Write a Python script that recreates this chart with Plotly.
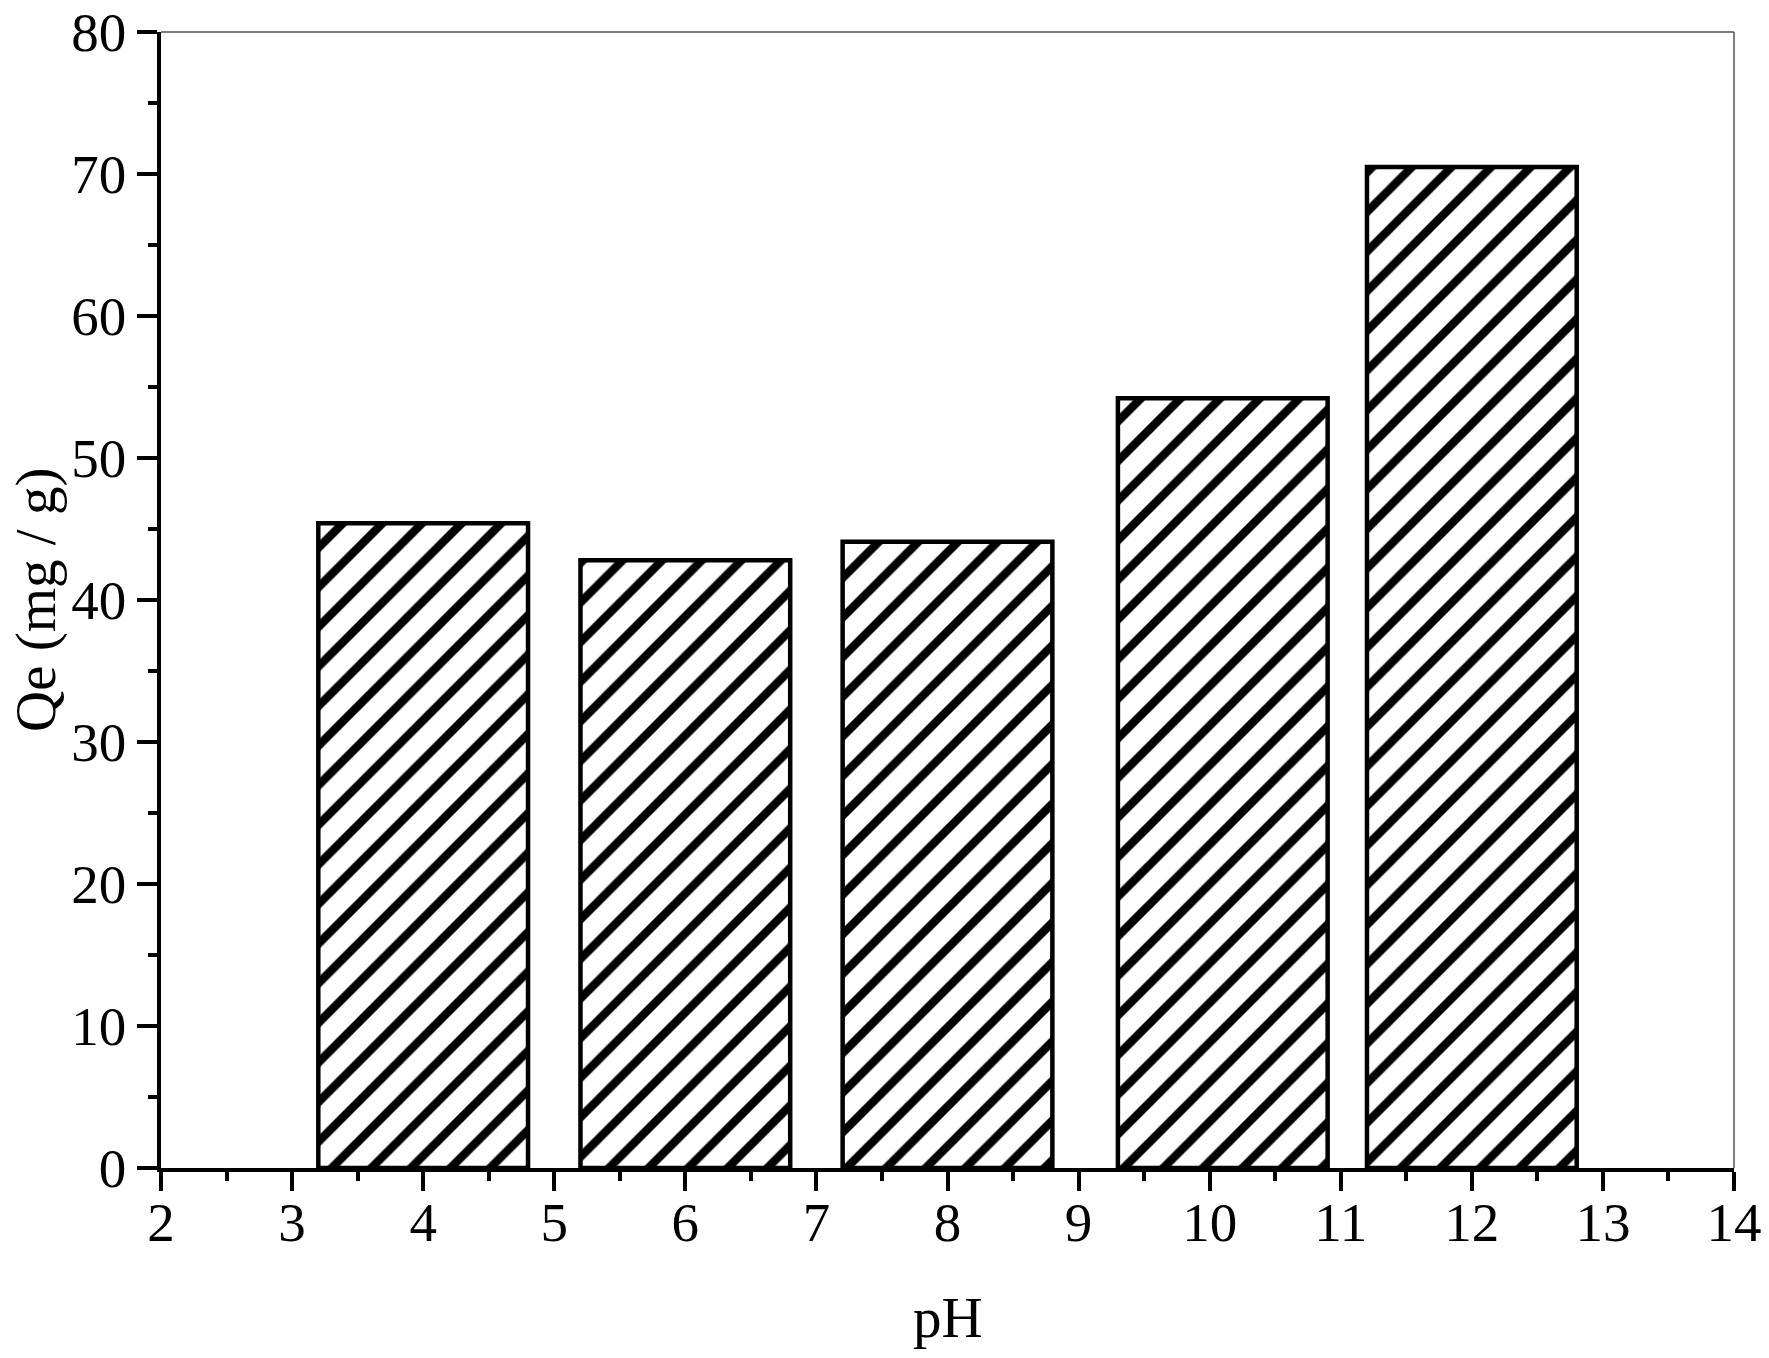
import plotly.graph_objects as go

ph = [4, 6, 8, 10.1, 12]
qe = [45.4, 42.8, 44.1, 54.2, 70.5]
bar_width = 1.6
x_label = "pH"
y_label = "Qe (mg / g)"

FONT = "Liberation Serif, Times New Roman, serif"
FS = 55

fig = go.Figure()
fig.add_trace(go.Bar(
    x=ph, y=qe, width=bar_width,
    marker=dict(
        color="white",
        line=dict(color="black", width=4.5),
        pattern=dict(shape="/", fgcolor="black", bgcolor="white", fgopacity=1,
                     size=28, solidity=0.3),
    ),
    showlegend=False,
))

axis_common = dict(
    showgrid=False, zeroline=False, showline=True, linecolor="black", linewidth=3.5,
    ticks="outside", tickwidth=3.5, tickcolor="black",
    tickfont=dict(family=FONT, size=FS, color="black"),
    ticklabeloverflow="allow",
)

fig.update_xaxes(
    range=[2, 14], dtick=1, tick0=2, ticklen=19, ticklabelstandoff=-16,
    minor=dict(ticks="outside", ticklen=9, tickwidth=3.5, tickcolor="black", dtick=0.5),
    **axis_common,
)
fig.update_yaxes(
    range=[0, 80], dtick=10, tick0=0, ticklen=20,
    minor=dict(ticks="outside", ticklen=9, tickwidth=3.5, tickcolor="black", dtick=5),
    **axis_common,
)

fig.add_annotation(text=x_label, xref="paper", yref="paper", x=0.5, y=0,
                   xanchor="center", yanchor="middle", yshift=-149, showarrow=False,
                   font=dict(family=FONT, size=57, color="black"))
fig.add_annotation(text=y_label, xref="paper", yref="paper", x=-0.0795, y=0.5,
                   xanchor="center", yanchor="middle", textangle=-90, showarrow=False,
                   font=dict(family=FONT, size=57, color="black"))

fig.add_shape(type="line", xref="paper", yref="paper", x0=0, x1=1, y0=1, y1=1,
              line=dict(color="#555555", width=1.5))
fig.add_shape(type="line", xref="paper", yref="paper", x0=1, x1=1, y0=0, y1=1,
              line=dict(color="#555555", width=1.5))

fig.update_layout(
    width=1769, height=1358,
    margin=dict(l=161, r=35, t=32, b=190, autoexpand=False),
    plot_bgcolor="white", paper_bgcolor="white",
    font=dict(family=FONT, color="black"),
)

fig.write_html("out.html", config={"displayModeBar": False},
               post_script="document.body.style.margin='0';")
